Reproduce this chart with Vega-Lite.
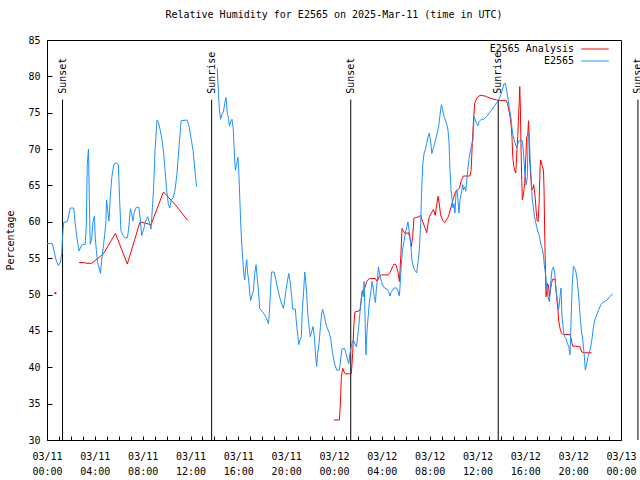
{
  "$schema": "https://vega.github.io/schema/vega-lite/v6.json",
  "width": 574,
  "height": 400,
  "autosize": {"type": "none"},
  "padding": {"left": 47, "top": 40, "right": 19, "bottom": 40},
  "background": "white",
  "title": {"text": "Relative Humidity for E2565 on 2025-Mar-11 (time in UTC)", "font": "DejaVu Sans Mono", "fontSize": 10, "fontWeight": "normal", "color": "black", "anchor": "middle", "frame": "group", "offset": 15},
  "config": {
    "view": {"stroke": "black", "strokeWidth": 1},
    "font": "DejaVu Sans Mono",
    "axis": {"domain": false, "grid": false, "labelFont": "DejaVu Sans Mono", "labelFontSize": 10, "labelColor": "black", "tickColor": "black", "tickWidth": 1, "titleFont": "DejaVu Sans Mono", "titleFontSize": 10, "titleFontWeight": "normal", "titleColor": "black"},
    "legend": {"title": null, "labelFont": "DejaVu Sans Mono", "labelFontSize": 10, "labelColor": "black", "padding": 0, "labelLimit": 200}
  },
  "datasets": {
    "rh": [
      {"t":"2025-03-11T00:42:00Z","v":50.2,"s":"E2565 Analysis","g":"r0"},
      {"t":"2025-03-11T02:41:00Z","v":54.4,"s":"E2565 Analysis","g":"r1"},
      {"t":"2025-03-11T03:07:00Z","v":54.4,"s":"E2565 Analysis","g":"r1"},
      {"t":"2025-03-11T03:14:00Z","v":54.3,"s":"E2565 Analysis","g":"r1"},
      {"t":"2025-03-11T03:44:00Z","v":54.3,"s":"E2565 Analysis","g":"r1"},
      {"t":"2025-03-11T04:43:00Z","v":55.6,"s":"E2565 Analysis","g":"r1"},
      {"t":"2025-03-11T05:43:00Z","v":58.4,"s":"E2565 Analysis","g":"r1"},
      {"t":"2025-03-11T06:43:00Z","v":54.2,"s":"E2565 Analysis","g":"r1"},
      {"t":"2025-03-11T07:47:00Z","v":60.0,"s":"E2565 Analysis","g":"r1"},
      {"t":"2025-03-11T08:42:00Z","v":59.6,"s":"E2565 Analysis","g":"r1"},
      {"t":"2025-03-11T09:44:00Z","v":64.1,"s":"E2565 Analysis","g":"r1"},
      {"t":"2025-03-11T10:42:00Z","v":62.4,"s":"E2565 Analysis","g":"r1"},
      {"t":"2025-03-11T11:46:00Z","v":60.2,"s":"E2565 Analysis","g":"r1"},
      {"t":"2025-03-12T00:00:00Z","v":32.75,"s":"E2565 Analysis","g":"r2"},
      {"t":"2025-03-12T00:27:00Z","v":32.75,"s":"E2565 Analysis","g":"r2"},
      {"t":"2025-03-12T00:32:00Z","v":35.0,"s":"E2565 Analysis","g":"r2"},
      {"t":"2025-03-12T00:37:00Z","v":38.7,"s":"E2565 Analysis","g":"r2"},
      {"t":"2025-03-12T00:44:00Z","v":39.85,"s":"E2565 Analysis","g":"r2"},
      {"t":"2025-03-12T00:50:00Z","v":39.4,"s":"E2565 Analysis","g":"r2"},
      {"t":"2025-03-12T00:57:00Z","v":39.1,"s":"E2565 Analysis","g":"r2"},
      {"t":"2025-03-12T01:27:00Z","v":39.1,"s":"E2565 Analysis","g":"r2"},
      {"t":"2025-03-12T01:34:00Z","v":42.0,"s":"E2565 Analysis","g":"r2"},
      {"t":"2025-03-12T01:40:00Z","v":46.0,"s":"E2565 Analysis","g":"r2"},
      {"t":"2025-03-12T01:45:00Z","v":47.6,"s":"E2565 Analysis","g":"r2"},
      {"t":"2025-03-12T02:10:00Z","v":47.8,"s":"E2565 Analysis","g":"r2"},
      {"t":"2025-03-12T02:16:00Z","v":49.0,"s":"E2565 Analysis","g":"r2"},
      {"t":"2025-03-12T02:20:00Z","v":50.2,"s":"E2565 Analysis","g":"r2"},
      {"t":"2025-03-12T02:31:00Z","v":50.7,"s":"E2565 Analysis","g":"r2"},
      {"t":"2025-03-12T02:37:00Z","v":51.1,"s":"E2565 Analysis","g":"r2"},
      {"t":"2025-03-12T02:44:00Z","v":51.8,"s":"E2565 Analysis","g":"r2"},
      {"t":"2025-03-12T02:57:00Z","v":52.2,"s":"E2565 Analysis","g":"r2"},
      {"t":"2025-03-12T03:28:00Z","v":52.2,"s":"E2565 Analysis","g":"r2"},
      {"t":"2025-03-12T03:37:00Z","v":51.8,"s":"E2565 Analysis","g":"r2"},
      {"t":"2025-03-12T03:47:00Z","v":52.5,"s":"E2565 Analysis","g":"r2"},
      {"t":"2025-03-12T03:58:00Z","v":52.7,"s":"E2565 Analysis","g":"r2"},
      {"t":"2025-03-12T04:32:00Z","v":52.7,"s":"E2565 Analysis","g":"r2"},
      {"t":"2025-03-12T04:41:00Z","v":53.0,"s":"E2565 Analysis","g":"r2"},
      {"t":"2025-03-12T04:54:00Z","v":53.8,"s":"E2565 Analysis","g":"r2"},
      {"t":"2025-03-12T05:01:00Z","v":54.2,"s":"E2565 Analysis","g":"r2"},
      {"t":"2025-03-12T05:11:00Z","v":54.1,"s":"E2565 Analysis","g":"r2"},
      {"t":"2025-03-12T05:18:00Z","v":53.4,"s":"E2565 Analysis","g":"r2"},
      {"t":"2025-03-12T05:23:00Z","v":52.9,"s":"E2565 Analysis","g":"r2"},
      {"t":"2025-03-12T05:28:00Z","v":51.8,"s":"E2565 Analysis","g":"r2"},
      {"t":"2025-03-12T05:31:00Z","v":53.1,"s":"E2565 Analysis","g":"r2"},
      {"t":"2025-03-12T05:36:00Z","v":55.7,"s":"E2565 Analysis","g":"r2"},
      {"t":"2025-03-12T05:41:00Z","v":59.1,"s":"E2565 Analysis","g":"r2"},
      {"t":"2025-03-12T05:51:00Z","v":58.6,"s":"E2565 Analysis","g":"r2"},
      {"t":"2025-03-12T06:01:00Z","v":58.4,"s":"E2565 Analysis","g":"r2"},
      {"t":"2025-03-12T06:14:00Z","v":58.5,"s":"E2565 Analysis","g":"r2"},
      {"t":"2025-03-12T06:21:00Z","v":57.7,"s":"E2565 Analysis","g":"r2"},
      {"t":"2025-03-12T06:28:00Z","v":56.6,"s":"E2565 Analysis","g":"r2"},
      {"t":"2025-03-12T06:35:00Z","v":58.0,"s":"E2565 Analysis","g":"r2"},
      {"t":"2025-03-12T06:41:00Z","v":60.5,"s":"E2565 Analysis","g":"r2"},
      {"t":"2025-03-12T06:52:00Z","v":60.6,"s":"E2565 Analysis","g":"r2"},
      {"t":"2025-03-12T07:05:00Z","v":60.7,"s":"E2565 Analysis","g":"r2"},
      {"t":"2025-03-12T07:15:00Z","v":60.9,"s":"E2565 Analysis","g":"r2"},
      {"t":"2025-03-12T07:25:00Z","v":60.0,"s":"E2565 Analysis","g":"r2"},
      {"t":"2025-03-12T07:35:00Z","v":59.3,"s":"E2565 Analysis","g":"r2"},
      {"t":"2025-03-12T07:45:00Z","v":58.5,"s":"E2565 Analysis","g":"r2"},
      {"t":"2025-03-12T07:52:00Z","v":59.8,"s":"E2565 Analysis","g":"r2"},
      {"t":"2025-03-12T07:58:00Z","v":60.7,"s":"E2565 Analysis","g":"r2"},
      {"t":"2025-03-12T08:08:00Z","v":61.2,"s":"E2565 Analysis","g":"r2"},
      {"t":"2025-03-12T08:19:00Z","v":61.7,"s":"E2565 Analysis","g":"r2"},
      {"t":"2025-03-12T08:28:00Z","v":60.9,"s":"E2565 Analysis","g":"r2"},
      {"t":"2025-03-12T08:35:00Z","v":62.3,"s":"E2565 Analysis","g":"r2"},
      {"t":"2025-03-12T08:42:00Z","v":63.5,"s":"E2565 Analysis","g":"r2"},
      {"t":"2025-03-12T08:49:00Z","v":62.3,"s":"E2565 Analysis","g":"r2"},
      {"t":"2025-03-12T08:55:00Z","v":60.9,"s":"E2565 Analysis","g":"r2"},
      {"t":"2025-03-12T09:05:00Z","v":60.2,"s":"E2565 Analysis","g":"r2"},
      {"t":"2025-03-12T09:15:00Z","v":59.9,"s":"E2565 Analysis","g":"r2"},
      {"t":"2025-03-12T09:25:00Z","v":60.3,"s":"E2565 Analysis","g":"r2"},
      {"t":"2025-03-12T09:35:00Z","v":60.8,"s":"E2565 Analysis","g":"r2"},
      {"t":"2025-03-12T09:46:00Z","v":61.9,"s":"E2565 Analysis","g":"r2"},
      {"t":"2025-03-12T09:59:00Z","v":63.2,"s":"E2565 Analysis","g":"r2"},
      {"t":"2025-03-12T10:09:00Z","v":64.1,"s":"E2565 Analysis","g":"r2"},
      {"t":"2025-03-12T10:19:00Z","v":64.4,"s":"E2565 Analysis","g":"r2"},
      {"t":"2025-03-12T10:29:00Z","v":64.6,"s":"E2565 Analysis","g":"r2"},
      {"t":"2025-03-12T10:39:00Z","v":65.7,"s":"E2565 Analysis","g":"r2"},
      {"t":"2025-03-12T10:49:00Z","v":66.3,"s":"E2565 Analysis","g":"r2"},
      {"t":"2025-03-12T11:22:00Z","v":66.3,"s":"E2565 Analysis","g":"r2"},
      {"t":"2025-03-12T11:28:00Z","v":67.1,"s":"E2565 Analysis","g":"r2"},
      {"t":"2025-03-12T11:34:00Z","v":70.8,"s":"E2565 Analysis","g":"r2"},
      {"t":"2025-03-12T11:39:00Z","v":73.5,"s":"E2565 Analysis","g":"r2"},
      {"t":"2025-03-12T11:46:00Z","v":76.3,"s":"E2565 Analysis","g":"r2"},
      {"t":"2025-03-12T11:56:00Z","v":77.0,"s":"E2565 Analysis","g":"r2"},
      {"t":"2025-03-12T12:13:00Z","v":77.4,"s":"E2565 Analysis","g":"r2"},
      {"t":"2025-03-12T12:38:00Z","v":77.3,"s":"E2565 Analysis","g":"r2"},
      {"t":"2025-03-12T13:03:00Z","v":77.0,"s":"E2565 Analysis","g":"r2"},
      {"t":"2025-03-12T13:36:00Z","v":76.75,"s":"E2565 Analysis","g":"r2"},
      {"t":"2025-03-12T13:45:00Z","v":76.7,"s":"E2565 Analysis","g":"r2"},
      {"t":"2025-03-12T14:23:00Z","v":76.7,"s":"E2565 Analysis","g":"r2"},
      {"t":"2025-03-12T14:30:00Z","v":76.3,"s":"E2565 Analysis","g":"r2"},
      {"t":"2025-03-12T14:37:00Z","v":75.4,"s":"E2565 Analysis","g":"r2"},
      {"t":"2025-03-12T14:43:00Z","v":74.5,"s":"E2565 Analysis","g":"r2"},
      {"t":"2025-03-12T14:49:00Z","v":73.3,"s":"E2565 Analysis","g":"r2"},
      {"t":"2025-03-12T14:53:00Z","v":71.7,"s":"E2565 Analysis","g":"r2"},
      {"t":"2025-03-12T14:57:00Z","v":69.0,"s":"E2565 Analysis","g":"r2"},
      {"t":"2025-03-12T15:02:00Z","v":67.6,"s":"E2565 Analysis","g":"r2"},
      {"t":"2025-03-12T15:07:00Z","v":67.1,"s":"E2565 Analysis","g":"r2"},
      {"t":"2025-03-12T15:12:00Z","v":66.7,"s":"E2565 Analysis","g":"r2"},
      {"t":"2025-03-12T15:17:00Z","v":69.4,"s":"E2565 Analysis","g":"r2"},
      {"t":"2025-03-12T15:22:00Z","v":71.7,"s":"E2565 Analysis","g":"r2"},
      {"t":"2025-03-12T15:25:00Z","v":73.8,"s":"E2565 Analysis","g":"r2"},
      {"t":"2025-03-12T15:29:00Z","v":76.3,"s":"E2565 Analysis","g":"r2"},
      {"t":"2025-03-12T15:32:00Z","v":78.6,"s":"E2565 Analysis","g":"r2"},
      {"t":"2025-03-12T15:35:00Z","v":75.8,"s":"E2565 Analysis","g":"r2"},
      {"t":"2025-03-12T15:38:00Z","v":70.8,"s":"E2565 Analysis","g":"r2"},
      {"t":"2025-03-12T15:42:00Z","v":65.7,"s":"E2565 Analysis","g":"r2"},
      {"t":"2025-03-12T15:45:00Z","v":63.0,"s":"E2565 Analysis","g":"r2"},
      {"t":"2025-03-12T15:50:00Z","v":63.7,"s":"E2565 Analysis","g":"r2"},
      {"t":"2025-03-12T15:57:00Z","v":65.3,"s":"E2565 Analysis","g":"r2"},
      {"t":"2025-03-12T16:02:00Z","v":68.5,"s":"E2565 Analysis","g":"r2"},
      {"t":"2025-03-12T16:07:00Z","v":71.7,"s":"E2565 Analysis","g":"r2"},
      {"t":"2025-03-12T16:12:00Z","v":71.9,"s":"E2565 Analysis","g":"r2"},
      {"t":"2025-03-12T16:16:00Z","v":73.9,"s":"E2565 Analysis","g":"r2"},
      {"t":"2025-03-12T16:19:00Z","v":71.7,"s":"E2565 Analysis","g":"r2"},
      {"t":"2025-03-12T16:22:00Z","v":68.5,"s":"E2565 Analysis","g":"r2"},
      {"t":"2025-03-12T16:27:00Z","v":66.3,"s":"E2565 Analysis","g":"r2"},
      {"t":"2025-03-12T16:32:00Z","v":64.4,"s":"E2565 Analysis","g":"r2"},
      {"t":"2025-03-12T16:37:00Z","v":64.5,"s":"E2565 Analysis","g":"r2"},
      {"t":"2025-03-12T16:42:00Z","v":65.1,"s":"E2565 Analysis","g":"r2"},
      {"t":"2025-03-12T16:49:00Z","v":63.5,"s":"E2565 Analysis","g":"r2"},
      {"t":"2025-03-12T16:54:00Z","v":61.6,"s":"E2565 Analysis","g":"r2"},
      {"t":"2025-03-12T16:59:00Z","v":60.2,"s":"E2565 Analysis","g":"r2"},
      {"t":"2025-03-12T17:04:00Z","v":60.0,"s":"E2565 Analysis","g":"r2"},
      {"t":"2025-03-12T17:09:00Z","v":62.5,"s":"E2565 Analysis","g":"r2"},
      {"t":"2025-03-12T17:14:00Z","v":67.6,"s":"E2565 Analysis","g":"r2"},
      {"t":"2025-03-12T17:17:00Z","v":68.5,"s":"E2565 Analysis","g":"r2"},
      {"t":"2025-03-12T17:24:00Z","v":67.8,"s":"E2565 Analysis","g":"r2"},
      {"t":"2025-03-12T17:31:00Z","v":67.1,"s":"E2565 Analysis","g":"r2"},
      {"t":"2025-03-12T17:34:00Z","v":64.4,"s":"E2565 Analysis","g":"r2"},
      {"t":"2025-03-12T17:37:00Z","v":58.6,"s":"E2565 Analysis","g":"r2"},
      {"t":"2025-03-12T17:41:00Z","v":53.4,"s":"E2565 Analysis","g":"r2"},
      {"t":"2025-03-12T17:44:00Z","v":49.7,"s":"E2565 Analysis","g":"r2"},
      {"t":"2025-03-12T17:47:00Z","v":50.4,"s":"E2565 Analysis","g":"r2"},
      {"t":"2025-03-12T17:51:00Z","v":51.5,"s":"E2565 Analysis","g":"r2"},
      {"t":"2025-03-12T17:56:00Z","v":51.3,"s":"E2565 Analysis","g":"r2"},
      {"t":"2025-03-12T18:01:00Z","v":49.7,"s":"E2565 Analysis","g":"r2"},
      {"t":"2025-03-12T18:06:00Z","v":50.6,"s":"E2565 Analysis","g":"r2"},
      {"t":"2025-03-12T18:11:00Z","v":51.5,"s":"E2565 Analysis","g":"r2"},
      {"t":"2025-03-12T18:17:00Z","v":52.1,"s":"E2565 Analysis","g":"r2"},
      {"t":"2025-03-12T18:29:00Z","v":52.1,"s":"E2565 Analysis","g":"r2"},
      {"t":"2025-03-12T18:34:00Z","v":50.6,"s":"E2565 Analysis","g":"r2"},
      {"t":"2025-03-12T18:39:00Z","v":49.2,"s":"E2565 Analysis","g":"r2"},
      {"t":"2025-03-12T18:44:00Z","v":47.9,"s":"E2565 Analysis","g":"r2"},
      {"t":"2025-03-12T18:47:00Z","v":46.5,"s":"E2565 Analysis","g":"r2"},
      {"t":"2025-03-12T18:51:00Z","v":45.8,"s":"E2565 Analysis","g":"r2"},
      {"t":"2025-03-12T18:56:00Z","v":45.1,"s":"E2565 Analysis","g":"r2"},
      {"t":"2025-03-12T19:01:00Z","v":44.7,"s":"E2565 Analysis","g":"r2"},
      {"t":"2025-03-12T19:11:00Z","v":44.5,"s":"E2565 Analysis","g":"r2"},
      {"t":"2025-03-12T19:44:00Z","v":44.5,"s":"E2565 Analysis","g":"r2"},
      {"t":"2025-03-12T19:51:00Z","v":43.75,"s":"E2565 Analysis","g":"r2"},
      {"t":"2025-03-12T19:58:00Z","v":42.9,"s":"E2565 Analysis","g":"r2"},
      {"t":"2025-03-12T20:14:00Z","v":42.9,"s":"E2565 Analysis","g":"r2"},
      {"t":"2025-03-12T20:35:00Z","v":42.8,"s":"E2565 Analysis","g":"r2"},
      {"t":"2025-03-12T20:43:00Z","v":42.1,"s":"E2565 Analysis","g":"r2"},
      {"t":"2025-03-12T20:55:00Z","v":42.0,"s":"E2565 Analysis","g":"r2"},
      {"t":"2025-03-12T21:32:00Z","v":42.0,"s":"E2565 Analysis","g":"r2"},
      {"t":"2025-03-11T00:00:00Z","v":57,"s":"E2565","g":"b1"},
      {"t":"2025-03-11T00:27:00Z","v":57,"s":"E2565","g":"b1"},
      {"t":"2025-03-11T00:37:00Z","v":55.8,"s":"E2565","g":"b1"},
      {"t":"2025-03-11T00:47:00Z","v":54.6,"s":"E2565","g":"b1"},
      {"t":"2025-03-11T00:57:00Z","v":54.0,"s":"E2565","g":"b1"},
      {"t":"2025-03-11T01:07:00Z","v":54.4,"s":"E2565","g":"b1"},
      {"t":"2025-03-11T01:14:00Z","v":55.6,"s":"E2565","g":"b1"},
      {"t":"2025-03-11T01:17:00Z","v":57.4,"s":"E2565","g":"b1"},
      {"t":"2025-03-11T01:23:00Z","v":59.9,"s":"E2565","g":"b1"},
      {"t":"2025-03-11T01:40:00Z","v":60.0,"s":"E2565","g":"b1"},
      {"t":"2025-03-11T01:47:00Z","v":60.6,"s":"E2565","g":"b1"},
      {"t":"2025-03-11T01:57:00Z","v":61.9,"s":"E2565","g":"b1"},
      {"t":"2025-03-11T02:14:00Z","v":61.9,"s":"E2565","g":"b1"},
      {"t":"2025-03-11T02:20:00Z","v":60.1,"s":"E2565","g":"b1"},
      {"t":"2025-03-11T02:31:00Z","v":57.6,"s":"E2565","g":"b1"},
      {"t":"2025-03-11T02:41:00Z","v":56.0,"s":"E2565","g":"b1"},
      {"t":"2025-03-11T02:47:00Z","v":56.4,"s":"E2565","g":"b1"},
      {"t":"2025-03-11T02:57:00Z","v":56.9,"s":"E2565","g":"b1"},
      {"t":"2025-03-11T03:11:00Z","v":56.9,"s":"E2565","g":"b1"},
      {"t":"2025-03-11T03:17:00Z","v":59.2,"s":"E2565","g":"b1"},
      {"t":"2025-03-11T03:22:00Z","v":67.9,"s":"E2565","g":"b1"},
      {"t":"2025-03-11T03:28:00Z","v":70.0,"s":"E2565","g":"b1"},
      {"t":"2025-03-11T03:32:00Z","v":63.6,"s":"E2565","g":"b1"},
      {"t":"2025-03-11T03:37:00Z","v":56.9,"s":"E2565","g":"b1"},
      {"t":"2025-03-11T03:44:00Z","v":57.6,"s":"E2565","g":"b1"},
      {"t":"2025-03-11T03:51:00Z","v":60.1,"s":"E2565","g":"b1"},
      {"t":"2025-03-11T03:58:00Z","v":60.8,"s":"E2565","g":"b1"},
      {"t":"2025-03-11T04:02:00Z","v":57.8,"s":"E2565","g":"b1"},
      {"t":"2025-03-11T04:08:00Z","v":56.0,"s":"E2565","g":"b1"},
      {"t":"2025-03-11T04:14:00Z","v":54.4,"s":"E2565","g":"b1"},
      {"t":"2025-03-11T04:23:00Z","v":53.5,"s":"E2565","g":"b1"},
      {"t":"2025-03-11T04:28:00Z","v":52.9,"s":"E2565","g":"b1"},
      {"t":"2025-03-11T04:34:00Z","v":54.6,"s":"E2565","g":"b1"},
      {"t":"2025-03-11T04:44:00Z","v":56.9,"s":"E2565","g":"b1"},
      {"t":"2025-03-11T04:55:00Z","v":59.7,"s":"E2565","g":"b1"},
      {"t":"2025-03-11T04:59:00Z","v":63.0,"s":"E2565","g":"b1"},
      {"t":"2025-03-11T05:04:00Z","v":61.7,"s":"E2565","g":"b1"},
      {"t":"2025-03-11T05:11:00Z","v":60.1,"s":"E2565","g":"b1"},
      {"t":"2025-03-11T05:18:00Z","v":63.6,"s":"E2565","g":"b1"},
      {"t":"2025-03-11T05:25:00Z","v":66.1,"s":"E2565","g":"b1"},
      {"t":"2025-03-11T05:34:00Z","v":67.7,"s":"E2565","g":"b1"},
      {"t":"2025-03-11T05:44:00Z","v":68.1,"s":"E2565","g":"b1"},
      {"t":"2025-03-11T05:58:00Z","v":67.9,"s":"E2565","g":"b1"},
      {"t":"2025-03-11T06:04:00Z","v":63.3,"s":"E2565","g":"b1"},
      {"t":"2025-03-11T06:11:00Z","v":58.8,"s":"E2565","g":"b1"},
      {"t":"2025-03-11T06:22:00Z","v":58.1,"s":"E2565","g":"b1"},
      {"t":"2025-03-11T06:31:00Z","v":57.8,"s":"E2565","g":"b1"},
      {"t":"2025-03-11T06:44:00Z","v":57.8,"s":"E2565","g":"b1"},
      {"t":"2025-03-11T06:52:00Z","v":59.7,"s":"E2565","g":"b1"},
      {"t":"2025-03-11T06:58:00Z","v":61.8,"s":"E2565","g":"b1"},
      {"t":"2025-03-11T07:05:00Z","v":61.1,"s":"E2565","g":"b1"},
      {"t":"2025-03-11T07:11:00Z","v":60.1,"s":"E2565","g":"b1"},
      {"t":"2025-03-11T07:18:00Z","v":61.3,"s":"E2565","g":"b1"},
      {"t":"2025-03-11T07:28:00Z","v":62.0,"s":"E2565","g":"b1"},
      {"t":"2025-03-11T07:41:00Z","v":62.0,"s":"E2565","g":"b1"},
      {"t":"2025-03-11T07:49:00Z","v":60.1,"s":"E2565","g":"b1"},
      {"t":"2025-03-11T07:55:00Z","v":58.1,"s":"E2565","g":"b1"},
      {"t":"2025-03-11T08:05:00Z","v":59.0,"s":"E2565","g":"b1"},
      {"t":"2025-03-11T08:15:00Z","v":60.1,"s":"E2565","g":"b1"},
      {"t":"2025-03-11T08:25:00Z","v":60.7,"s":"E2565","g":"b1"},
      {"t":"2025-03-11T08:32:00Z","v":60.1,"s":"E2565","g":"b1"},
      {"t":"2025-03-11T08:42:00Z","v":59.0,"s":"E2565","g":"b1"},
      {"t":"2025-03-11T08:49:00Z","v":62.0,"s":"E2565","g":"b1"},
      {"t":"2025-03-11T08:55:00Z","v":64.7,"s":"E2565","g":"b1"},
      {"t":"2025-03-11T09:02:00Z","v":69.8,"s":"E2565","g":"b1"},
      {"t":"2025-03-11T09:12:00Z","v":74.0,"s":"E2565","g":"b1"},
      {"t":"2025-03-11T09:19:00Z","v":73.7,"s":"E2565","g":"b1"},
      {"t":"2025-03-11T09:29:00Z","v":72.5,"s":"E2565","g":"b1"},
      {"t":"2025-03-11T09:38:00Z","v":71.1,"s":"E2565","g":"b1"},
      {"t":"2025-03-11T09:46:00Z","v":69.3,"s":"E2565","g":"b1"},
      {"t":"2025-03-11T09:52:00Z","v":67.2,"s":"E2565","g":"b1"},
      {"t":"2025-03-11T09:59:00Z","v":64.7,"s":"E2565","g":"b1"},
      {"t":"2025-03-11T10:09:00Z","v":62.4,"s":"E2565","g":"b1"},
      {"t":"2025-03-11T10:16:00Z","v":61.9,"s":"E2565","g":"b1"},
      {"t":"2025-03-11T10:22:00Z","v":62.9,"s":"E2565","g":"b1"},
      {"t":"2025-03-11T10:32:00Z","v":63.3,"s":"E2565","g":"b1"},
      {"t":"2025-03-11T10:42:00Z","v":64.3,"s":"E2565","g":"b1"},
      {"t":"2025-03-11T10:52:00Z","v":66.6,"s":"E2565","g":"b1"},
      {"t":"2025-03-11T11:02:00Z","v":70.2,"s":"E2565","g":"b1"},
      {"t":"2025-03-11T11:13:00Z","v":73.9,"s":"E2565","g":"b1"},
      {"t":"2025-03-11T11:43:00Z","v":74.0,"s":"E2565","g":"b1"},
      {"t":"2025-03-11T11:52:00Z","v":73.2,"s":"E2565","g":"b1"},
      {"t":"2025-03-11T12:02:00Z","v":71.6,"s":"E2565","g":"b1"},
      {"t":"2025-03-11T12:13:00Z","v":69.8,"s":"E2565","g":"b1"},
      {"t":"2025-03-11T12:23:00Z","v":66.8,"s":"E2565","g":"b1"},
      {"t":"2025-03-11T12:31:00Z","v":64.8,"s":"E2565","g":"b1"},
      {"t":"2025-03-11T14:14:00Z","v":81.1,"s":"E2565","g":"b2"},
      {"t":"2025-03-11T14:20:00Z","v":77.9,"s":"E2565","g":"b2"},
      {"t":"2025-03-11T14:25:00Z","v":75.4,"s":"E2565","g":"b2"},
      {"t":"2025-03-11T14:31:00Z","v":74.1,"s":"E2565","g":"b2"},
      {"t":"2025-03-11T14:38:00Z","v":74.8,"s":"E2565","g":"b2"},
      {"t":"2025-03-11T14:45:00Z","v":75.1,"s":"E2565","g":"b2"},
      {"t":"2025-03-11T14:52:00Z","v":76.3,"s":"E2565","g":"b2"},
      {"t":"2025-03-11T14:58:00Z","v":77.1,"s":"E2565","g":"b2"},
      {"t":"2025-03-11T15:05:00Z","v":74.9,"s":"E2565","g":"b2"},
      {"t":"2025-03-11T15:11:00Z","v":74.2,"s":"E2565","g":"b2"},
      {"t":"2025-03-11T15:15:00Z","v":73.2,"s":"E2565","g":"b2"},
      {"t":"2025-03-11T15:22:00Z","v":73.8,"s":"E2565","g":"b2"},
      {"t":"2025-03-11T15:28:00Z","v":74.1,"s":"E2565","g":"b2"},
      {"t":"2025-03-11T15:35:00Z","v":72.6,"s":"E2565","g":"b2"},
      {"t":"2025-03-11T15:38:00Z","v":70.6,"s":"E2565","g":"b2"},
      {"t":"2025-03-11T15:42:00Z","v":68.3,"s":"E2565","g":"b2"},
      {"t":"2025-03-11T15:45:00Z","v":67.1,"s":"E2565","g":"b2"},
      {"t":"2025-03-11T15:52:00Z","v":68.0,"s":"E2565","g":"b2"},
      {"t":"2025-03-11T15:58:00Z","v":68.9,"s":"E2565","g":"b2"},
      {"t":"2025-03-11T16:02:00Z","v":67.1,"s":"E2565","g":"b2"},
      {"t":"2025-03-11T16:07:00Z","v":63.5,"s":"E2565","g":"b2"},
      {"t":"2025-03-11T16:12:00Z","v":59.8,"s":"E2565","g":"b2"},
      {"t":"2025-03-11T16:17:00Z","v":57.0,"s":"E2565","g":"b2"},
      {"t":"2025-03-11T16:22:00Z","v":55.0,"s":"E2565","g":"b2"},
      {"t":"2025-03-11T16:27:00Z","v":52.9,"s":"E2565","g":"b2"},
      {"t":"2025-03-11T16:32:00Z","v":52.0,"s":"E2565","g":"b2"},
      {"t":"2025-03-11T16:37:00Z","v":53.8,"s":"E2565","g":"b2"},
      {"t":"2025-03-11T16:42:00Z","v":54.8,"s":"E2565","g":"b2"},
      {"t":"2025-03-11T16:47:00Z","v":52.9,"s":"E2565","g":"b2"},
      {"t":"2025-03-11T16:52:00Z","v":52.0,"s":"E2565","g":"b2"},
      {"t":"2025-03-11T16:57:00Z","v":50.2,"s":"E2565","g":"b2"},
      {"t":"2025-03-11T17:02:00Z","v":49.2,"s":"E2565","g":"b2"},
      {"t":"2025-03-11T17:09:00Z","v":49.9,"s":"E2565","g":"b2"},
      {"t":"2025-03-11T17:16:00Z","v":50.6,"s":"E2565","g":"b2"},
      {"t":"2025-03-11T17:22:00Z","v":52.9,"s":"E2565","g":"b2"},
      {"t":"2025-03-11T17:29:00Z","v":54.1,"s":"E2565","g":"b2"},
      {"t":"2025-03-11T17:35:00Z","v":52.2,"s":"E2565","g":"b2"},
      {"t":"2025-03-11T17:42:00Z","v":50.2,"s":"E2565","g":"b2"},
      {"t":"2025-03-11T17:47:00Z","v":48.1,"s":"E2565","g":"b2"},
      {"t":"2025-03-11T17:59:00Z","v":47.7,"s":"E2565","g":"b2"},
      {"t":"2025-03-11T18:12:00Z","v":47.2,"s":"E2565","g":"b2"},
      {"t":"2025-03-11T18:22:00Z","v":46.7,"s":"E2565","g":"b2"},
      {"t":"2025-03-11T18:31:00Z","v":46.0,"s":"E2565","g":"b2"},
      {"t":"2025-03-11T18:35:00Z","v":47.2,"s":"E2565","g":"b2"},
      {"t":"2025-03-11T18:41:00Z","v":50.2,"s":"E2565","g":"b2"},
      {"t":"2025-03-11T18:46:00Z","v":53.1,"s":"E2565","g":"b2"},
      {"t":"2025-03-11T18:59:00Z","v":53.1,"s":"E2565","g":"b2"},
      {"t":"2025-03-11T19:09:00Z","v":52.0,"s":"E2565","g":"b2"},
      {"t":"2025-03-11T19:19:00Z","v":50.6,"s":"E2565","g":"b2"},
      {"t":"2025-03-11T19:29:00Z","v":49.5,"s":"E2565","g":"b2"},
      {"t":"2025-03-11T19:39:00Z","v":48.6,"s":"E2565","g":"b2"},
      {"t":"2025-03-11T19:46:00Z","v":48.1,"s":"E2565","g":"b2"},
      {"t":"2025-03-11T19:53:00Z","v":49.3,"s":"E2565","g":"b2"},
      {"t":"2025-03-11T19:59:00Z","v":50.6,"s":"E2565","g":"b2"},
      {"t":"2025-03-11T20:06:00Z","v":51.8,"s":"E2565","g":"b2"},
      {"t":"2025-03-11T20:13:00Z","v":52.9,"s":"E2565","g":"b2"},
      {"t":"2025-03-11T20:19:00Z","v":52.0,"s":"E2565","g":"b2"},
      {"t":"2025-03-11T20:26:00Z","v":50.2,"s":"E2565","g":"b2"},
      {"t":"2025-03-11T20:33:00Z","v":48.0,"s":"E2565","g":"b2"},
      {"t":"2025-03-11T20:46:00Z","v":48.0,"s":"E2565","g":"b2"},
      {"t":"2025-03-11T20:53:00Z","v":45.6,"s":"E2565","g":"b2"},
      {"t":"2025-03-11T20:59:00Z","v":44.2,"s":"E2565","g":"b2"},
      {"t":"2025-03-11T21:03:00Z","v":43.1,"s":"E2565","g":"b2"},
      {"t":"2025-03-11T21:10:00Z","v":43.8,"s":"E2565","g":"b2"},
      {"t":"2025-03-11T21:16:00Z","v":44.2,"s":"E2565","g":"b2"},
      {"t":"2025-03-11T21:21:00Z","v":47.9,"s":"E2565","g":"b2"},
      {"t":"2025-03-11T21:28:00Z","v":50.6,"s":"E2565","g":"b2"},
      {"t":"2025-03-11T21:33:00Z","v":53.1,"s":"E2565","g":"b2"},
      {"t":"2025-03-11T21:38:00Z","v":51.8,"s":"E2565","g":"b2"},
      {"t":"2025-03-11T21:43:00Z","v":50.2,"s":"E2565","g":"b2"},
      {"t":"2025-03-11T21:48:00Z","v":47.4,"s":"E2565","g":"b2"},
      {"t":"2025-03-11T21:55:00Z","v":45.6,"s":"E2565","g":"b2"},
      {"t":"2025-03-11T22:01:00Z","v":44.2,"s":"E2565","g":"b2"},
      {"t":"2025-03-11T22:08:00Z","v":44.9,"s":"E2565","g":"b2"},
      {"t":"2025-03-11T22:15:00Z","v":45.6,"s":"E2565","g":"b2"},
      {"t":"2025-03-11T22:22:00Z","v":44.0,"s":"E2565","g":"b2"},
      {"t":"2025-03-11T22:28:00Z","v":41.5,"s":"E2565","g":"b2"},
      {"t":"2025-03-11T22:33:00Z","v":40.1,"s":"E2565","g":"b2"},
      {"t":"2025-03-11T22:38:00Z","v":41.9,"s":"E2565","g":"b2"},
      {"t":"2025-03-11T22:45:00Z","v":43.3,"s":"E2565","g":"b2"},
      {"t":"2025-03-11T22:52:00Z","v":45.6,"s":"E2565","g":"b2"},
      {"t":"2025-03-11T22:58:00Z","v":47.4,"s":"E2565","g":"b2"},
      {"t":"2025-03-11T23:03:00Z","v":48.0,"s":"E2565","g":"b2"},
      {"t":"2025-03-11T23:10:00Z","v":47.2,"s":"E2565","g":"b2"},
      {"t":"2025-03-11T23:17:00Z","v":46.3,"s":"E2565","g":"b2"},
      {"t":"2025-03-11T23:23:00Z","v":45.6,"s":"E2565","g":"b2"},
      {"t":"2025-03-11T23:34:00Z","v":44.9,"s":"E2565","g":"b2"},
      {"t":"2025-03-11T23:43:00Z","v":44.0,"s":"E2565","g":"b2"},
      {"t":"2025-03-11T23:53:00Z","v":41.9,"s":"E2565","g":"b2"},
      {"t":"2025-03-12T00:04:00Z","v":40.4,"s":"E2565","g":"b2"},
      {"t":"2025-03-12T00:14:00Z","v":39.6,"s":"E2565","g":"b2"},
      {"t":"2025-03-12T00:27:00Z","v":39.6,"s":"E2565","g":"b2"},
      {"t":"2025-03-12T00:34:00Z","v":41.2,"s":"E2565","g":"b2"},
      {"t":"2025-03-12T00:40:00Z","v":42.5,"s":"E2565","g":"b2"},
      {"t":"2025-03-12T00:53:00Z","v":42.6,"s":"E2565","g":"b2"},
      {"t":"2025-03-12T01:00:00Z","v":41.9,"s":"E2565","g":"b2"},
      {"t":"2025-03-12T01:07:00Z","v":41.2,"s":"E2565","g":"b2"},
      {"t":"2025-03-12T01:14:00Z","v":40.5,"s":"E2565","g":"b2"},
      {"t":"2025-03-12T01:20:00Z","v":41.9,"s":"E2565","g":"b2"},
      {"t":"2025-03-12T01:30:00Z","v":43.3,"s":"E2565","g":"b2"},
      {"t":"2025-03-12T01:37:00Z","v":43.75,"s":"E2565","g":"b2"},
      {"t":"2025-03-12T01:44:00Z","v":43.3,"s":"E2565","g":"b2"},
      {"t":"2025-03-12T01:53:00Z","v":42.8,"s":"E2565","g":"b2"},
      {"t":"2025-03-12T01:59:00Z","v":44.2,"s":"E2565","g":"b2"},
      {"t":"2025-03-12T02:04:00Z","v":45.6,"s":"E2565","g":"b2"},
      {"t":"2025-03-12T02:10:00Z","v":47.4,"s":"E2565","g":"b2"},
      {"t":"2025-03-12T02:17:00Z","v":49.5,"s":"E2565","g":"b2"},
      {"t":"2025-03-12T02:22:00Z","v":50.6,"s":"E2565","g":"b2"},
      {"t":"2025-03-12T02:27:00Z","v":49.7,"s":"E2565","g":"b2"},
      {"t":"2025-03-12T02:31:00Z","v":51.8,"s":"E2565","g":"b2"},
      {"t":"2025-03-12T02:35:00Z","v":47.9,"s":"E2565","g":"b2"},
      {"t":"2025-03-12T02:40:00Z","v":41.7,"s":"E2565","g":"b2"},
      {"t":"2025-03-12T02:46:00Z","v":45.1,"s":"E2565","g":"b2"},
      {"t":"2025-03-12T02:50:00Z","v":46.5,"s":"E2565","g":"b2"},
      {"t":"2025-03-12T02:57:00Z","v":48.8,"s":"E2565","g":"b2"},
      {"t":"2025-03-12T03:04:00Z","v":50.2,"s":"E2565","g":"b2"},
      {"t":"2025-03-12T03:11:00Z","v":51.8,"s":"E2565","g":"b2"},
      {"t":"2025-03-12T03:17:00Z","v":50.9,"s":"E2565","g":"b2"},
      {"t":"2025-03-12T03:22:00Z","v":49.7,"s":"E2565","g":"b2"},
      {"t":"2025-03-12T03:28:00Z","v":48.9,"s":"E2565","g":"b2"},
      {"t":"2025-03-12T03:32:00Z","v":50.6,"s":"E2565","g":"b2"},
      {"t":"2025-03-12T03:37:00Z","v":51.8,"s":"E2565","g":"b2"},
      {"t":"2025-03-12T03:43:00Z","v":53.8,"s":"E2565","g":"b2"},
      {"t":"2025-03-12T03:47:00Z","v":53.1,"s":"E2565","g":"b2"},
      {"t":"2025-03-12T03:52:00Z","v":52.5,"s":"E2565","g":"b2"},
      {"t":"2025-03-12T03:58:00Z","v":51.8,"s":"E2565","g":"b2"},
      {"t":"2025-03-12T04:04:00Z","v":51.3,"s":"E2565","g":"b2"},
      {"t":"2025-03-12T04:14:00Z","v":50.9,"s":"E2565","g":"b2"},
      {"t":"2025-03-12T04:28:00Z","v":50.7,"s":"E2565","g":"b2"},
      {"t":"2025-03-12T04:34:00Z","v":50.4,"s":"E2565","g":"b2"},
      {"t":"2025-03-12T04:41:00Z","v":49.8,"s":"E2565","g":"b2"},
      {"t":"2025-03-12T04:47:00Z","v":50.3,"s":"E2565","g":"b2"},
      {"t":"2025-03-12T04:54:00Z","v":50.6,"s":"E2565","g":"b2"},
      {"t":"2025-03-12T05:01:00Z","v":50.9,"s":"E2565","g":"b2"},
      {"t":"2025-03-12T05:14:00Z","v":50.9,"s":"E2565","g":"b2"},
      {"t":"2025-03-12T05:21:00Z","v":50.5,"s":"E2565","g":"b2"},
      {"t":"2025-03-12T05:28:00Z","v":49.8,"s":"E2565","g":"b2"},
      {"t":"2025-03-12T05:33:00Z","v":51.8,"s":"E2565","g":"b2"},
      {"t":"2025-03-12T05:38:00Z","v":54.3,"s":"E2565","g":"b2"},
      {"t":"2025-03-12T05:44:00Z","v":56.1,"s":"E2565","g":"b2"},
      {"t":"2025-03-12T05:51:00Z","v":57.3,"s":"E2565","g":"b2"},
      {"t":"2025-03-12T05:58:00Z","v":58.4,"s":"E2565","g":"b2"},
      {"t":"2025-03-12T06:05:00Z","v":59.3,"s":"E2565","g":"b2"},
      {"t":"2025-03-12T06:11:00Z","v":60.0,"s":"E2565","g":"b2"},
      {"t":"2025-03-12T06:16:00Z","v":58.9,"s":"E2565","g":"b2"},
      {"t":"2025-03-12T06:21:00Z","v":58.0,"s":"E2565","g":"b2"},
      {"t":"2025-03-12T06:26:00Z","v":56.6,"s":"E2565","g":"b2"},
      {"t":"2025-03-12T06:31:00Z","v":54.7,"s":"E2565","g":"b2"},
      {"t":"2025-03-12T06:38:00Z","v":53.8,"s":"E2565","g":"b2"},
      {"t":"2025-03-12T06:44:00Z","v":53.4,"s":"E2565","g":"b2"},
      {"t":"2025-03-12T06:55:00Z","v":53.0,"s":"E2565","g":"b2"},
      {"t":"2025-03-12T07:01:00Z","v":54.3,"s":"E2565","g":"b2"},
      {"t":"2025-03-12T07:08:00Z","v":56.1,"s":"E2565","g":"b2"},
      {"t":"2025-03-12T07:15:00Z","v":59.8,"s":"E2565","g":"b2"},
      {"t":"2025-03-12T07:20:00Z","v":64.4,"s":"E2565","g":"b2"},
      {"t":"2025-03-12T07:25:00Z","v":67.8,"s":"E2565","g":"b2"},
      {"t":"2025-03-12T07:32:00Z","v":69.4,"s":"E2565","g":"b2"},
      {"t":"2025-03-12T07:38:00Z","v":69.9,"s":"E2565","g":"b2"},
      {"t":"2025-03-12T07:45:00Z","v":70.8,"s":"E2565","g":"b2"},
      {"t":"2025-03-12T07:52:00Z","v":71.7,"s":"E2565","g":"b2"},
      {"t":"2025-03-12T07:58:00Z","v":72.2,"s":"E2565","g":"b2"},
      {"t":"2025-03-12T08:05:00Z","v":71.0,"s":"E2565","g":"b2"},
      {"t":"2025-03-12T08:11:00Z","v":69.4,"s":"E2565","g":"b2"},
      {"t":"2025-03-12T08:19:00Z","v":70.1,"s":"E2565","g":"b2"},
      {"t":"2025-03-12T08:25:00Z","v":70.8,"s":"E2565","g":"b2"},
      {"t":"2025-03-12T08:32:00Z","v":71.5,"s":"E2565","g":"b2"},
      {"t":"2025-03-12T08:38:00Z","v":72.2,"s":"E2565","g":"b2"},
      {"t":"2025-03-12T08:45:00Z","v":73.1,"s":"E2565","g":"b2"},
      {"t":"2025-03-12T08:52:00Z","v":74.7,"s":"E2565","g":"b2"},
      {"t":"2025-03-12T08:59:00Z","v":76.1,"s":"E2565","g":"b2"},
      {"t":"2025-03-12T09:05:00Z","v":75.4,"s":"E2565","g":"b2"},
      {"t":"2025-03-12T09:12:00Z","v":74.5,"s":"E2565","g":"b2"},
      {"t":"2025-03-12T09:19:00Z","v":74.0,"s":"E2565","g":"b2"},
      {"t":"2025-03-12T09:25:00Z","v":73.5,"s":"E2565","g":"b2"},
      {"t":"2025-03-12T09:32:00Z","v":72.6,"s":"E2565","g":"b2"},
      {"t":"2025-03-12T09:37:00Z","v":71.0,"s":"E2565","g":"b2"},
      {"t":"2025-03-12T09:42:00Z","v":67.1,"s":"E2565","g":"b2"},
      {"t":"2025-03-12T09:47:00Z","v":64.4,"s":"E2565","g":"b2"},
      {"t":"2025-03-12T09:52:00Z","v":63.2,"s":"E2565","g":"b2"},
      {"t":"2025-03-12T09:57:00Z","v":61.9,"s":"E2565","g":"b2"},
      {"t":"2025-03-12T10:02:00Z","v":62.5,"s":"E2565","g":"b2"},
      {"t":"2025-03-12T10:07:00Z","v":61.2,"s":"E2565","g":"b2"},
      {"t":"2025-03-12T10:12:00Z","v":63.9,"s":"E2565","g":"b2"},
      {"t":"2025-03-12T10:17:00Z","v":64.4,"s":"E2565","g":"b2"},
      {"t":"2025-03-12T10:22:00Z","v":63.0,"s":"E2565","g":"b2"},
      {"t":"2025-03-12T10:27:00Z","v":61.2,"s":"E2565","g":"b2"},
      {"t":"2025-03-12T10:32:00Z","v":63.0,"s":"E2565","g":"b2"},
      {"t":"2025-03-12T10:39:00Z","v":63.9,"s":"E2565","g":"b2"},
      {"t":"2025-03-12T10:46:00Z","v":65.1,"s":"E2565","g":"b2"},
      {"t":"2025-03-12T10:50:00Z","v":64.4,"s":"E2565","g":"b2"},
      {"t":"2025-03-12T10:56:00Z","v":64.8,"s":"E2565","g":"b2"},
      {"t":"2025-03-12T11:01:00Z","v":64.2,"s":"E2565","g":"b2"},
      {"t":"2025-03-12T11:05:00Z","v":65.3,"s":"E2565","g":"b2"},
      {"t":"2025-03-12T11:13:00Z","v":67.6,"s":"E2565","g":"b2"},
      {"t":"2025-03-12T11:19:00Z","v":69.0,"s":"E2565","g":"b2"},
      {"t":"2025-03-12T11:26:00Z","v":69.9,"s":"E2565","g":"b2"},
      {"t":"2025-03-12T11:32:00Z","v":70.8,"s":"E2565","g":"b2"},
      {"t":"2025-03-12T11:37:00Z","v":71.2,"s":"E2565","g":"b2"},
      {"t":"2025-03-12T11:43:00Z","v":74.5,"s":"E2565","g":"b2"},
      {"t":"2025-03-12T11:49:00Z","v":74.0,"s":"E2565","g":"b2"},
      {"t":"2025-03-12T11:56:00Z","v":73.5,"s":"E2565","g":"b2"},
      {"t":"2025-03-12T12:02:00Z","v":73.2,"s":"E2565","g":"b2"},
      {"t":"2025-03-12T12:09:00Z","v":73.8,"s":"E2565","g":"b2"},
      {"t":"2025-03-12T12:19:00Z","v":74.1,"s":"E2565","g":"b2"},
      {"t":"2025-03-12T12:32:00Z","v":74.1,"s":"E2565","g":"b2"},
      {"t":"2025-03-12T12:46:00Z","v":74.5,"s":"E2565","g":"b2"},
      {"t":"2025-03-12T13:03:00Z","v":75.1,"s":"E2565","g":"b2"},
      {"t":"2025-03-12T13:45:00Z","v":76.7,"s":"E2565","g":"b2"},
      {"t":"2025-03-12T13:56:00Z","v":77.4,"s":"E2565","g":"b2"},
      {"t":"2025-03-12T14:07:00Z","v":78.4,"s":"E2565","g":"b2"},
      {"t":"2025-03-12T14:13:00Z","v":79.0,"s":"E2565","g":"b2"},
      {"t":"2025-03-12T14:20:00Z","v":79.0,"s":"E2565","g":"b2"},
      {"t":"2025-03-12T14:26:00Z","v":78.1,"s":"E2565","g":"b2"},
      {"t":"2025-03-12T14:34:00Z","v":76.8,"s":"E2565","g":"b2"},
      {"t":"2025-03-12T14:40:00Z","v":75.6,"s":"E2565","g":"b2"},
      {"t":"2025-03-12T14:47:00Z","v":74.5,"s":"E2565","g":"b2"},
      {"t":"2025-03-12T14:52:00Z","v":73.1,"s":"E2565","g":"b2"},
      {"t":"2025-03-12T14:57:00Z","v":72.0,"s":"E2565","g":"b2"},
      {"t":"2025-03-12T15:04:00Z","v":71.3,"s":"E2565","g":"b2"},
      {"t":"2025-03-12T15:10:00Z","v":70.7,"s":"E2565","g":"b2"},
      {"t":"2025-03-12T15:17:00Z","v":70.2,"s":"E2565","g":"b2"},
      {"t":"2025-03-12T15:23:00Z","v":70.8,"s":"E2565","g":"b2"},
      {"t":"2025-03-12T15:30:00Z","v":71.2,"s":"E2565","g":"b2"},
      {"t":"2025-03-12T15:44:00Z","v":71.2,"s":"E2565","g":"b2"},
      {"t":"2025-03-12T15:49:00Z","v":70.1,"s":"E2565","g":"b2"},
      {"t":"2025-03-12T15:53:00Z","v":68.5,"s":"E2565","g":"b2"},
      {"t":"2025-03-12T15:59:00Z","v":66.2,"s":"E2565","g":"b2"},
      {"t":"2025-03-12T16:04:00Z","v":65.1,"s":"E2565","g":"b2"},
      {"t":"2025-03-12T16:10:00Z","v":66.2,"s":"E2565","g":"b2"},
      {"t":"2025-03-12T16:14:00Z","v":71.9,"s":"E2565","g":"b2"},
      {"t":"2025-03-12T16:19:00Z","v":72.2,"s":"E2565","g":"b2"},
      {"t":"2025-03-12T16:24:00Z","v":68.6,"s":"E2565","g":"b2"},
      {"t":"2025-03-12T16:31:00Z","v":65.1,"s":"E2565","g":"b2"},
      {"t":"2025-03-12T16:35:00Z","v":63.0,"s":"E2565","g":"b2"},
      {"t":"2025-03-12T16:40:00Z","v":62.1,"s":"E2565","g":"b2"},
      {"t":"2025-03-12T16:46:00Z","v":60.7,"s":"E2565","g":"b2"},
      {"t":"2025-03-12T16:50:00Z","v":60.2,"s":"E2565","g":"b2"},
      {"t":"2025-03-12T16:57:00Z","v":59.3,"s":"E2565","g":"b2"},
      {"t":"2025-03-12T17:04:00Z","v":58.6,"s":"E2565","g":"b2"},
      {"t":"2025-03-12T17:11:00Z","v":58.0,"s":"E2565","g":"b2"},
      {"t":"2025-03-12T17:17:00Z","v":57.0,"s":"E2565","g":"b2"},
      {"t":"2025-03-12T17:24:00Z","v":56.4,"s":"E2565","g":"b2"},
      {"t":"2025-03-12T17:31:00Z","v":55.4,"s":"E2565","g":"b2"},
      {"t":"2025-03-12T17:35:00Z","v":54.1,"s":"E2565","g":"b2"},
      {"t":"2025-03-12T17:41:00Z","v":52.9,"s":"E2565","g":"b2"},
      {"t":"2025-03-12T17:47:00Z","v":51.1,"s":"E2565","g":"b2"},
      {"t":"2025-03-12T17:54:00Z","v":49.7,"s":"E2565","g":"b2"},
      {"t":"2025-03-12T18:01:00Z","v":49.0,"s":"E2565","g":"b2"},
      {"t":"2025-03-12T18:07:00Z","v":51.5,"s":"E2565","g":"b2"},
      {"t":"2025-03-12T18:14:00Z","v":53.4,"s":"E2565","g":"b2"},
      {"t":"2025-03-12T18:21:00Z","v":53.8,"s":"E2565","g":"b2"},
      {"t":"2025-03-12T18:28:00Z","v":52.9,"s":"E2565","g":"b2"},
      {"t":"2025-03-12T18:34:00Z","v":50.6,"s":"E2565","g":"b2"},
      {"t":"2025-03-12T18:41:00Z","v":49.2,"s":"E2565","g":"b2"},
      {"t":"2025-03-12T18:47:00Z","v":47.9,"s":"E2565","g":"b2"},
      {"t":"2025-03-12T18:54:00Z","v":49.7,"s":"E2565","g":"b2"},
      {"t":"2025-03-12T18:59:00Z","v":50.9,"s":"E2565","g":"b2"},
      {"t":"2025-03-12T19:04:00Z","v":47.0,"s":"E2565","g":"b2"},
      {"t":"2025-03-12T19:11:00Z","v":45.1,"s":"E2565","g":"b2"},
      {"t":"2025-03-12T19:17:00Z","v":44.2,"s":"E2565","g":"b2"},
      {"t":"2025-03-12T19:25:00Z","v":43.9,"s":"E2565","g":"b2"},
      {"t":"2025-03-12T19:31:00Z","v":43.3,"s":"E2565","g":"b2"},
      {"t":"2025-03-12T19:38:00Z","v":42.8,"s":"E2565","g":"b2"},
      {"t":"2025-03-12T19:44:00Z","v":41.7,"s":"E2565","g":"b2"},
      {"t":"2025-03-12T19:49:00Z","v":46.0,"s":"E2565","g":"b2"},
      {"t":"2025-03-12T19:55:00Z","v":51.1,"s":"E2565","g":"b2"},
      {"t":"2025-03-12T20:01:00Z","v":53.9,"s":"E2565","g":"b2"},
      {"t":"2025-03-12T20:08:00Z","v":53.6,"s":"E2565","g":"b2"},
      {"t":"2025-03-12T20:14:00Z","v":53.1,"s":"E2565","g":"b2"},
      {"t":"2025-03-12T20:21:00Z","v":51.8,"s":"E2565","g":"b2"},
      {"t":"2025-03-12T20:28:00Z","v":49.7,"s":"E2565","g":"b2"},
      {"t":"2025-03-12T20:35:00Z","v":47.0,"s":"E2565","g":"b2"},
      {"t":"2025-03-12T20:41:00Z","v":45.1,"s":"E2565","g":"b2"},
      {"t":"2025-03-12T20:48:00Z","v":43.75,"s":"E2565","g":"b2"},
      {"t":"2025-03-12T20:55:00Z","v":41.9,"s":"E2565","g":"b2"},
      {"t":"2025-03-12T21:01:00Z","v":39.6,"s":"E2565","g":"b2"},
      {"t":"2025-03-12T21:08:00Z","v":40.5,"s":"E2565","g":"b2"},
      {"t":"2025-03-12T21:15:00Z","v":41.5,"s":"E2565","g":"b2"},
      {"t":"2025-03-12T21:22:00Z","v":42.1,"s":"E2565","g":"b2"},
      {"t":"2025-03-12T21:28:00Z","v":42.8,"s":"E2565","g":"b2"},
      {"t":"2025-03-12T21:35:00Z","v":44.0,"s":"E2565","g":"b2"},
      {"t":"2025-03-12T21:41:00Z","v":45.4,"s":"E2565","g":"b2"},
      {"t":"2025-03-12T21:48:00Z","v":46.5,"s":"E2565","g":"b2"},
      {"t":"2025-03-12T21:58:00Z","v":47.2,"s":"E2565","g":"b2"},
      {"t":"2025-03-12T22:08:00Z","v":47.9,"s":"E2565","g":"b2"},
      {"t":"2025-03-12T22:19:00Z","v":48.6,"s":"E2565","g":"b2"},
      {"t":"2025-03-12T22:32:00Z","v":49.0,"s":"E2565","g":"b2"},
      {"t":"2025-03-12T22:49:00Z","v":49.2,"s":"E2565","g":"b2"},
      {"t":"2025-03-12T23:02:00Z","v":49.7,"s":"E2565","g":"b2"},
      {"t":"2025-03-12T23:19:00Z","v":50.1,"s":"E2565","g":"b2"}
    ],
    "sun": [
      {"t":"2025-03-11T01:18:00Z","ev":"Sunset"},
      {"t":"2025-03-11T13:46:00Z","ev":"Sunrise"},
      {"t":"2025-03-12T01:24:00Z","ev":"Sunset"},
      {"t":"2025-03-12T13:44:00Z","ev":"Sunrise"},
      {"t":"2025-03-13T01:25:00Z","ev":"Sunset"}
    ]
  },
  "encoding": {
    "x": {
      "field": "t", "type": "temporal",
      "scale": {"type": "utc", "domain": [1741651200000, 1741824000000]},
      "axis": {"title": null, "values": [1741651200000, 1741654800000, 1741658400000, 1741662000000, 1741665600000, 1741669200000, 1741672800000, 1741676400000, 1741680000000, 1741683600000, 1741687200000, 1741690800000, 1741694400000, 1741698000000, 1741701600000, 1741705200000, 1741708800000, 1741712400000, 1741716000000, 1741719600000, 1741723200000, 1741726800000, 1741730400000, 1741734000000, 1741737600000, 1741741200000, 1741744800000, 1741748400000, 1741752000000, 1741755600000, 1741759200000, 1741762800000, 1741766400000, 1741770000000, 1741773600000, 1741777200000, 1741780800000, 1741784400000, 1741788000000, 1741791600000, 1741795200000, 1741798800000, 1741802400000, 1741806000000, 1741809600000, 1741813200000, 1741816800000, 1741820400000, 1741824000000], "tickSize": -4, "labelExpr": "utchours(datum.value) % 4 === 0 ? [utcFormat(datum.value, '%m/%d'), utcFormat(datum.value, '%H:%M')] : ''", "labelOverlap": false, "labelFlush": false, "labelPadding": 15, "labelLineHeight": 15, "labelBaseline": "top", "labelAlign": "center"}
    }
  },
  "layer": [
    {
      "data": {"name": "sun"},
      "mark": {"type": "rule", "color": "black", "strokeWidth": 1},
      "encoding": {
        "y": {"datum": 76.8, "type": "quantitative", "scale": {"domain": [30, 85], "nice": false, "zero": false}, "axis": {"title": "Percentage", "values": [30, 35, 40, 45, 50, 55, 60, 65, 70, 75, 80, 85], "labelOverlap": false, "tickSize": -5, "labelPadding": 12, "titlePadding": 12}},
        "y2": {"datum": 30}
      }
    },
    {
      "data": {"name": "sun"},
      "mark": {"type": "text", "angle": 270, "align": "left", "baseline": "middle", "font": "DejaVu Sans Mono", "fontSize": 10, "color": "black"},
      "encoding": {
        "y": {"datum": 77.6, "type": "quantitative", "axis": {"title": "Percentage", "values": [30, 35, 40, 45, 50, 55, 60, 65, 70, 75, 80, 85], "labelOverlap": false, "tickSize": -5, "labelPadding": 12, "titlePadding": 12}},
        "text": {"field": "ev"}
      }
    },
    {
      "data": {"name": "rh"},
      "transform": [{"filter": "datum.g !== 'r0'"}],
      "mark": {"type": "line", "strokeWidth": 1, "interpolate": "linear"},
      "encoding": {
        "y": {
          "field": "v", "type": "quantitative",
          "scale": {"domain": [30, 85], "nice": false, "zero": false},
          "axis": {"title": "Percentage", "values": [30, 35, 40, 45, 50, 55, 60, 65, 70, 75, 80, 85], "labelOverlap": false, "tickSize": -5, "labelPadding": 12, "titlePadding": 12}
        },
        "color": {"field": "s", "type": "nominal", "scale": {"domain": ["E2565 Analysis", "E2565"], "range": ["#ff0000", "#1e90ff"]}, "legend": {"orient": "none", "legendX": 542, "legendY": 3, "symbolType": "M-2.5,0H2.5", "symbolSize": 121, "symbolStrokeWidth": 1, "labelAlign": "right", "labelOffset": -27, "rowPadding": 1, "labelExpr": "datum.label === 'E2565' ? '\u00a0\u00a0\u00a0\u00a0\u00a0\u00a0\u00a0\u00a0\u00a0E2565' : datum.label"}},
        "detail": {"field": "g"}
      }
    },
    {
      "data": {"name": "rh"},
      "transform": [{"filter": "datum.g === 'r0'"}],
      "mark": {"type": "square", "size": 4, "filled": true, "color": "#ff0000", "opacity": 1},
      "encoding": {
        "y": {"field": "v", "type": "quantitative", "axis": {"title": "Percentage", "values": [30, 35, 40, 45, 50, 55, 60, 65, 70, 75, 80, 85], "labelOverlap": false, "tickSize": -5, "labelPadding": 12, "titlePadding": 12}}
      }
    }
  ]
}
